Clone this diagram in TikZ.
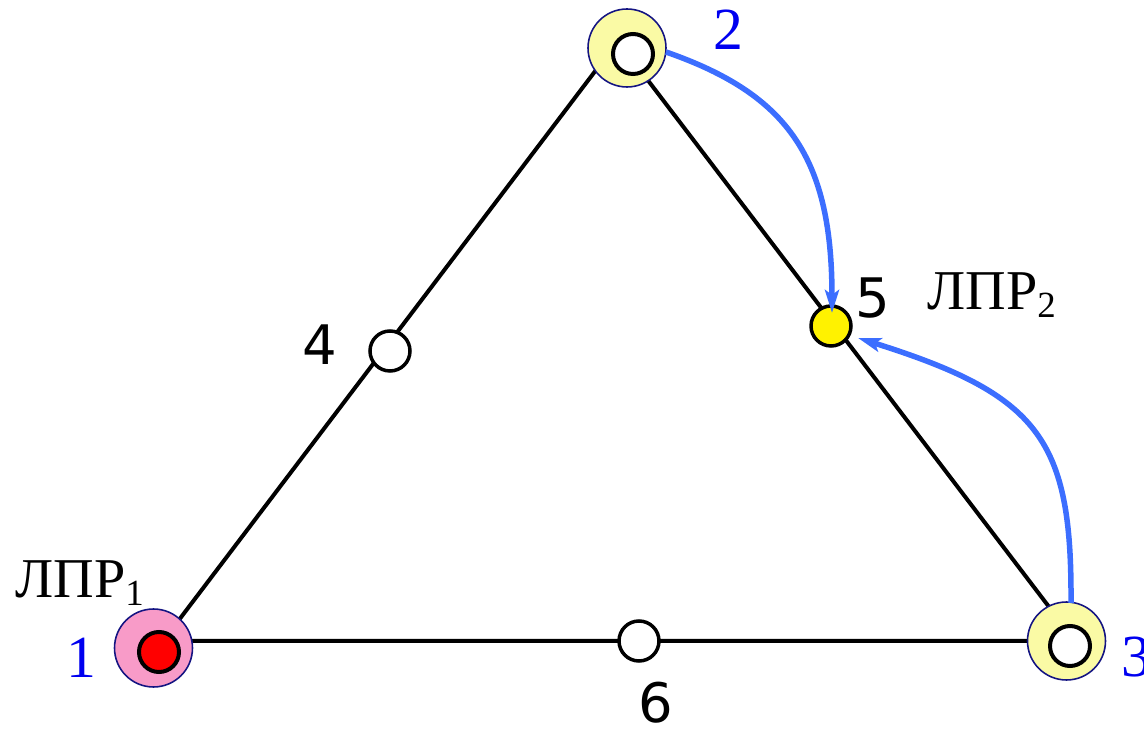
\documentclass[tikz,border=0pt]{standalone}
\usepackage{fontspec}
\setmainfont{Liberation Serif}
\newfontfamily\dvs{DejaVu Sans}
\usetikzlibrary{arrows.meta}
\definecolor{navyb}{RGB}{20,20,130}
\definecolor{pinkf}{RGB}{248,155,200}
\definecolor{paley}{RGB}{250,250,165}
\definecolor{arrowb}{RGB}{60,110,255}
\definecolor{lblue}{RGB}{0,0,240}
\tikzset{
  edge/.style={line width=0.08cm, black},
  outerc/.style={circle, draw=navyb, line width=0.9pt, minimum size=1.56cm, inner sep=0pt},
  innerc/.style={circle, draw=black, line width=0.08cm, minimum size=0.8cm, inner sep=0pt},
  midc/.style={circle, draw=black, line width=0.07cm, fill=white, minimum size=0.8cm, inner sep=0pt},
  vlabel/.style={text=lblue, font=\fontsize{34}{34}\selectfont, inner sep=0pt},
  nlabel/.style={font=\dvs\fontsize{31}{31}\selectfont, inner sep=0pt},
  lpr/.style={font=\fontsize{32}{32}\selectfont, inner sep=0pt, anchor=base west},
  flow/.style={arrowb, line width=0.11cm, -{Stealth[length=0.46cm,width=0.28cm,inset=0.1cm]}}
}
\begin{document}
\begin{tikzpicture}[x=0.02cm,y=-0.02cm]
\useasboundingbox (0,0) rectangle (1144,729);
% triangle vertices
\coordinate (V1) at (163,641);
\coordinate (V2) at (618,41);
\coordinate (V3) at (1075,641);
\draw[edge] (V1) -- (V2) -- (V3) -- cycle;
% middle nodes
\node[midc] (n4) at (390,351) {};
\node[midc] (n6) at (639,641) {};
\node[midc, fill=yellow] (n5) at (831,326) {};
% corner nodes
\node[outerc, fill=pinkf] (o1) at (153.5,648) {};
\node[innerc, fill=red] (n1) at (159,652) {};
\node[outerc, fill=paley] (o2) at (627,48) {};
\node[innerc, fill=white] (n2) at (633,54) {};
\node[outerc, fill=paley] (o3) at (1066.5,641) {};
\node[innerc, fill=white] (n3) at (1070,646) {};
% arrows
\coordinate (a1s) at (666,52);
\coordinate (a1e) at (832,313);
\coordinate (a2s) at (1071,603);
\coordinate (a2e) at (858,338);
\draw[flow] (a1s) .. controls (790,95) and (832,160) .. (a1e);
\draw[flow] (a2s) .. controls (1072,440) and (1040,395) .. (a2e);
% labels
\node[vlabel] (l1) at (81,658) {1};
\node[vlabel] (l2) at (728,30) {2};
\node[vlabel, anchor=west] (l3) at (1121,657) {3};
\node[nlabel] (l4) at (320,345) {4};
\node[nlabel] (l5) at (873,298) {5};
\node[nlabel] (l6) at (656,703) {6};
\node[lpr] (p1) at (15,598) {ЛПР\raisebox{-4pt}{\fontsize{21}{21}\selectfont 1}};
\node[lpr] (p2) at (927,310) {ЛПР\raisebox{-4pt}{\fontsize{21}{21}\selectfont 2}};
\end{tikzpicture}
\end{document}
